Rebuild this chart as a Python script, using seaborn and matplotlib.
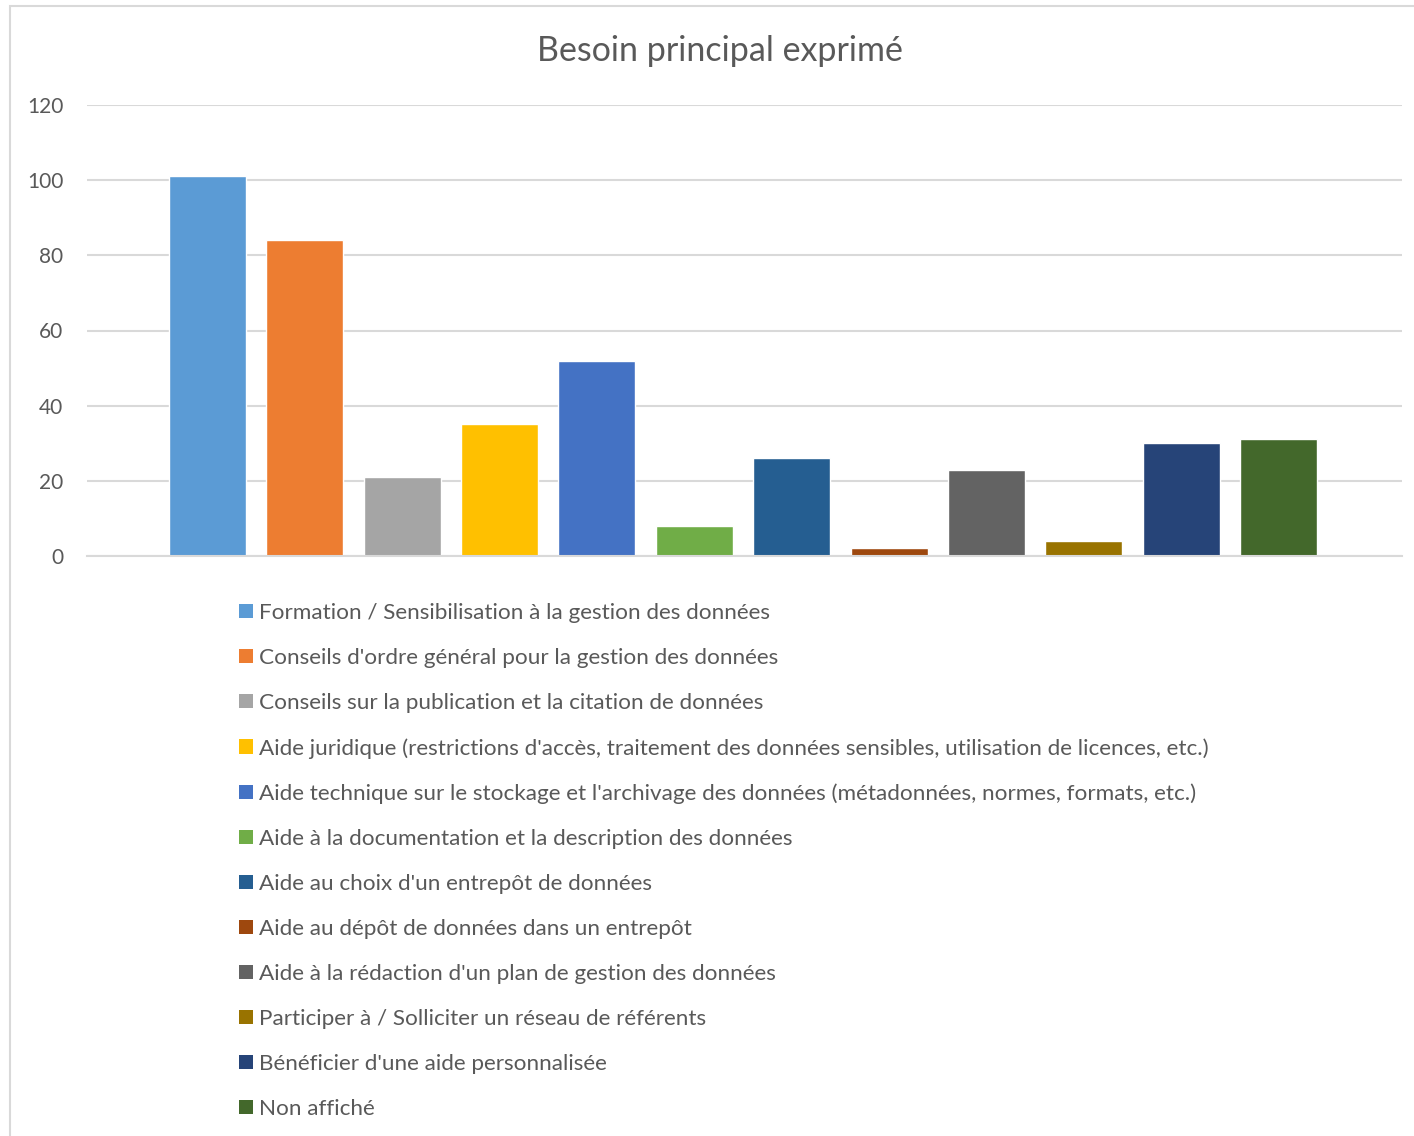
import matplotlib
matplotlib.use("Agg")
import matplotlib.pyplot as plt
import seaborn as sns
import pandas as pd
from matplotlib.patches import Patch, Rectangle

categories = [
    "Formation / Sensibilisation à la gestion des données",
    "Conseils d'ordre général pour la gestion des données",
    "Conseils sur la publication et la citation de données",
    "Aide juridique (restrictions d'accès, traitement des données sensibles, utilisation de licences, etc.)",
    "Aide technique sur le stockage et l'archivage des données (métadonnées, normes, formats, etc.)",
    "Aide à la documentation et la description des données",
    "Aide au choix d'un entrepôt de données",
    "Aide au dépôt de données dans un entrepôt",
    "Aide à la rédaction d'un plan de gestion des données",
    "Participer à / Solliciter un réseau de référents",
    "Bénéficier d'une aide personnalisée",
    "Non affiché",
]
values = [101, 84, 21, 35, 52, 8, 26, 2, 23, 4, 30, 31]
colors = ["#5B9BD5", "#ED7D31", "#A5A5A5", "#FFC000", "#4472C4", "#70AD47",
          "#255E91", "#9E480E", "#636363", "#997300", "#264478", "#43682B"]

df = pd.DataFrame({"besoin": categories, "n": values})

sns.set_style("white")
plt.rcParams['font.family'] = ['Lato', 'DejaVu Sans']
txt = "#595959"

fig = plt.figure(figsize=(14.14, 11.36), dpi=100)
ax = fig.add_axes([87 / 1414, 1 - 556 / 1136, 1315 / 1414, 451 / 1136])

sns.barplot(data=df, x="besoin", y="n", hue="besoin", palette=colors,
            order=categories, hue_order=categories, dodge=False,
            width=0.79, legend=False, ax=ax, saturation=1)

ax.set_xlim(-1.237, 12.268)
ax.set_ylim(0, 120)
ax.set_yticks([0, 20, 40, 60, 80, 100, 120])
ax.yaxis.grid(True, color="#d9d9d9", linewidth=1.5)
ax.set_axisbelow(True)
for s in ["top", "right", "left"]:
    ax.spines[s].set_visible(False)
ax.spines["bottom"].set_color("#d9d9d9")
ax.spines["bottom"].set_linewidth(1.5)
ax.set_xticks([])
ax.set_xlabel("")
ax.set_ylabel("")
ax.tick_params(axis="y", length=0, pad=17, labelsize=15, labelcolor=txt)

fig.text(720 / 1414, 1 - 51 / 1136, "Besoin principal exprimé", ha="center", va="center",
         fontsize=24.5, color=txt)

handles = [Patch(facecolor=c, edgecolor="none") for c in colors]
fig.legend(handles, categories, loc="upper left",
           bbox_to_anchor=(239 / 1414, 1 - 603 / 1136), frameon=False,
           fontsize=16.2, labelcolor=txt, handlelength=0.62, handleheight=0.62,
           handletextpad=0.25, labelspacing=1.11, borderaxespad=0, borderpad=0)

# chart border
fig.patches.append(Rectangle((10 / 1414, -0.01), 1.02, 1 - 6 / 1136 + 0.01,
                             transform=fig.transFigure, fill=False,
                             edgecolor="#d9d9d9", linewidth=1.5))

fig.savefig("out.png", dpi=100)
